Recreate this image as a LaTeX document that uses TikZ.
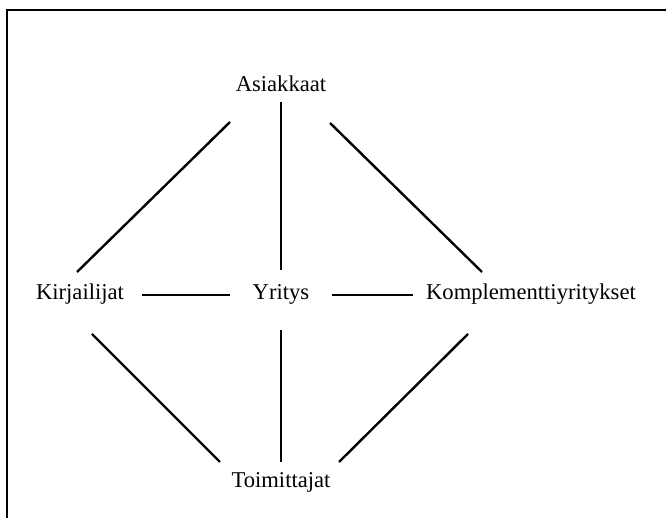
\documentclass[tikz,border=0pt]{standalone}
\usepackage{fontspec}
\setmainfont{Liberation Serif}
\usetikzlibrary{positioning}
\newcommand{\Toimija}[1]{\fontsize{11.3}{13.6}\selectfont #1}

\begin{document}
\begin{tikzpicture}[x=0.5pt,y=-0.5pt,line width=1.2pt,
    toimija/.style={inner sep=0pt, anchor=base}]
  \useasboundingbox (0,0) rectangle (666,518);
  \clip (0,0) rectangle (666,518);
  \draw (7,10) rectangle (700,560);
  \node[toimija] (Asiakkaat)    at (281, 92)  {\Toimija{Asiakkaat}};
  \node[toimija] (Kirjailijat)  at (80, 300)  {\Toimija{Kirjailijat}};
  \node[toimija] (Yritys)       at (281, 300) {\Toimija{Yritys}};
  \node[toimija] (Komplementti) at (531, 300) {\Toimija{Komplementtiyritykset}};
  \node[toimija] (Toimittajat)  at (281, 488) {\Toimija{Toimittajat}};
  \draw ([shift={(0,10)}]Asiakkaat.base) -- ([shift={(0,-30)}]Yritys.base);
  \draw ([shift={(0,30)}]Yritys.base) -- ([shift={(0,-26)}]Toimittajat.base);
  \draw ([shift={(62,-5)}]Kirjailijat.base) -- ([shift={(-51,-5)}]Yritys.base);
  \draw ([shift={(51,-5)}]Yritys.base) -- ([shift={(-118,-5)}]Komplementti.base);
  \draw ([shift={(-3,-28)}]Kirjailijat.base) -- ([shift={(-51,30)}]Asiakkaat.base);
  \draw ([shift={(49,31)}]Asiakkaat.base) -- ([shift={(-49,-28)}]Komplementti.base);
  \draw ([shift={(12,34)}]Kirjailijat.base) -- ([shift={(-61,-26)}]Toimittajat.base);
  \draw ([shift={(-63,34)}]Komplementti.base) -- ([shift={(58,-26)}]Toimittajat.base);
\end{tikzpicture}
\end{document}
